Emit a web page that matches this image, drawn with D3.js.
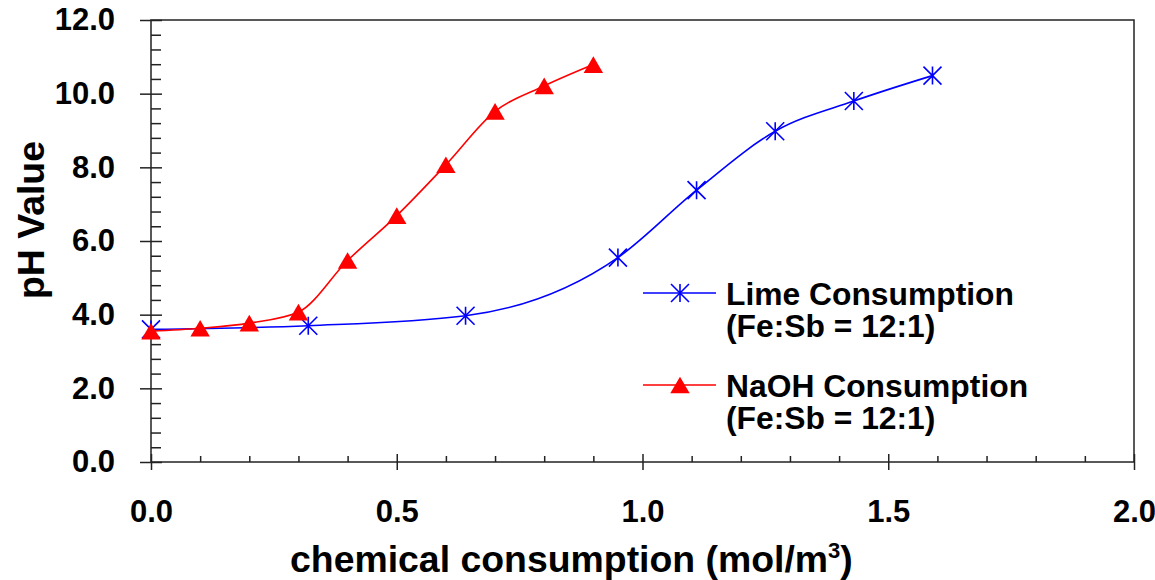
<!DOCTYPE html>
<html>

<head>
  <title>pH vs chemical consumption</title>

  <style>
    body,
    html {
      margin: 0;
      padding: 0;
      background: #fff;
    }

    svg text {
      font-family: "Liberation Sans", Arial, sans-serif;
      font-weight: bold;
      fill: #000;
    }
  </style>
</head>


<body>

  <svg id="svg" width="1155" height="580"></svg>

  <script src="https://d3js.org/d3.v7.min.js"></script>

  <script>
    // lime series (blue asterisks)
    const limeX = [0, 0.32, 0.64, 0.95, 1.11, 1.27, 1.43, 1.59]
    const limePH = [3.6, 3.7, 3.97, 5.55, 7.38, 8.98, 9.8, 10.49]

    // NaOH series (red triangles)
    const naohX = [0, 0.1, 0.2, 0.3, 0.4, 0.5, 0.6, 0.7, 0.8, 0.9]
    const naohPH = [3.55, 3.63, 3.77, 4.07, 5.47, 6.69, 8.07, 9.52, 10.21, 10.79]

    const xTicks = [0, 0.5, 1.0, 1.5, 2.0]
    const yTicks = [0, 2, 4, 6, 8, 10, 12]
    const legendNames = ["Lime Consumption", "NaOH Consumption"]
    const legendSub = ["(Fe:Sb = 12:1)", "(Fe:Sb = 12:1)"]

    const plotLeft = 151, plotRight = 1134, plotTop = 20, plotBottom = 462

    const svg = d3.select("#svg")

    const xScale = d3.scaleLinear().domain([0, 2]).range([plotLeft, plotRight])
    const yScale = d3.scaleLinear().domain([0, 12]).range([plotBottom, plotTop])

    const xMinor = d3.range(1, 20).map(i => i / 10).filter(v => Math.abs(v * 2 - Math.round(v * 2)) > 1e-6)
    const yMinor = d3.range(0, 31).map(i => i * 0.4).filter(v => Math.abs(v / 2 - Math.round(v / 2)) > 1e-6)

    // frame
    svg.append("rect")
      .attr("x", plotLeft).attr("y", plotTop)
      .attr("width", plotRight - plotLeft).attr("height", plotBottom - plotTop)
      .attr("fill", "none").attr("stroke", "#222").attr("stroke-width", 1.5)

    function plain(g) {
      g.select(".domain").remove()
      g.selectAll("line").attr("stroke", "#222").attr("stroke-width", 1.5)
    }

    // x axis: major ticks cross the axis, minor ticks point inward
    svg.append("g")
      .attr("transform", `translate(0, ${plotBottom})`)
      .call(d3.axisBottom(xScale).tickValues(xTicks).tickSize(8).tickPadding(30).tickFormat(d3.format(".1f")))
      .call(plain)
      .call(g => g.selectAll("text").attr("font-size", 31))
    svg.append("g")
      .attr("transform", `translate(0, ${plotBottom})`)
      .call(d3.axisBottom(xScale).tickValues(xTicks).tickSize(-8).tickFormat(""))
      .call(plain)
    svg.append("g")
      .attr("transform", `translate(0, ${plotBottom})`)
      .call(d3.axisBottom(xScale).tickValues(xMinor).tickSize(-6).tickFormat(""))
      .call(plain)

    // y axis
    svg.append("g")
      .attr("transform", `translate(${plotLeft}, 0)`)
      .call(d3.axisLeft(yScale).tickValues(yTicks).tickSize(11).tickPadding(25).tickFormat(d3.format(".1f")))
      .call(plain)
      .call(g => g.selectAll("text").attr("font-size", 31))
    svg.append("g")
      .attr("transform", `translate(${plotLeft}, 0)`)
      .call(d3.axisLeft(yScale).tickValues(yTicks).tickSize(-11).tickFormat(""))
      .call(plain)
    svg.append("g")
      .attr("transform", `translate(${plotLeft}, 0)`)
      .call(d3.axisLeft(yScale).tickValues(yMinor).tickSize(-10).tickFormat(""))
      .call(plain)

    // axis titles
    const xTitle = svg.append("text")
      .attr("x", 290).attr("y", 572)
      .attr("font-size", 37.4)
    xTitle.append("tspan").text("chemical consumption (mol/m")
    xTitle.append("tspan").attr("font-size", 22).attr("dy", -14).text("3")
    xTitle.append("tspan").attr("dy", 14).text(")")

    svg.append("text")
      .attr("transform", "translate(44, 220) rotate(-90)")
      .attr("text-anchor", "middle")
      .attr("font-size", 37.4)
      .text("pH Value")

    // markers
    const asterisk = {
      draw(ctx, size) {
        const r = Math.sqrt(size) / 2
        ctx.moveTo(0, -r); ctx.lineTo(0, r)
        ctx.moveTo(-r, -r); ctx.lineTo(r, r)
        ctx.moveTo(-r, r); ctx.lineTo(r, -r)
      }
    }
    const triangle = {
      draw(ctx, size) {
        const w = Math.sqrt(size) / 2
        ctx.moveTo(0, -w * 0.9)
        ctx.lineTo(w * 1.05, w * 0.9)
        ctx.lineTo(-w * 1.05, w * 0.9)
        ctx.closePath()
      }
    }
    const starPath = d3.symbol().type(asterisk).size(324)()
    const triPath = d3.symbol().type(triangle).size(342)()

    const lineGen = d3.line()
      .x(d => xScale(d[0]))
      .y(d => yScale(d[1]))
      .curve(d3.curveMonotoneX)

    const limeData = d3.zip(limeX, limePH)
    const naohData = d3.zip(naohX, naohPH)

    const plot = svg.append("g")

    plot.append("path")
      .attr("d", lineGen(limeData))
      .attr("fill", "none").attr("stroke", "#0000ff").attr("stroke-width", 1.6)
    plot.selectAll(".lime").data(limeData).join("path")
      .attr("class", "lime")
      .attr("transform", d => `translate(${xScale(d[0])}, ${yScale(d[1])})`)
      .attr("d", starPath)
      .attr("fill", "none").attr("stroke", "#0000ff").attr("stroke-width", 1.6)

    plot.append("path")
      .attr("d", lineGen(naohData))
      .attr("fill", "none").attr("stroke", "#ff0000").attr("stroke-width", 1.6)
    plot.selectAll(".naoh").data(naohData).join("path")
      .attr("class", "naoh")
      .attr("transform", d => `translate(${xScale(d[0])}, ${yScale(d[1])})`)
      .attr("d", triPath)
      .attr("fill", "#ff0000")

    // legend (two-line labels kept in one text element)
    const legendColors = ["#0000ff", "#ff0000"]
    const legendMarks = [starPath, triPath]
    const legend = svg.append("g").attr("transform", "translate(643, 293)")
    legendNames.forEach((name, i) => {
      const row = legend.append("g").attr("transform", `translate(0, ${i * 92})`)
      row.append("line")
        .attr("x1", 0).attr("x2", 73)
        .attr("stroke", legendColors[i]).attr("stroke-width", 1.6)
      row.append("path")
        .attr("transform", "translate(37, 0)")
        .attr("d", legendMarks[i])
        .attr("fill", i === 0 ? "none" : legendColors[i])
        .attr("stroke", i === 0 ? legendColors[i] : "none")
        .attr("stroke-width", 1.6)
      const label = row.append("text")
        .attr("x", 83).attr("y", 12)
        .attr("font-size", 31.8)
      label.append("tspan").attr("x", 83).text(name)
      label.append("tspan").attr("x", 83).attr("dy", 32).text(legendSub[i])
    })
  </script>

</body>
</html>
